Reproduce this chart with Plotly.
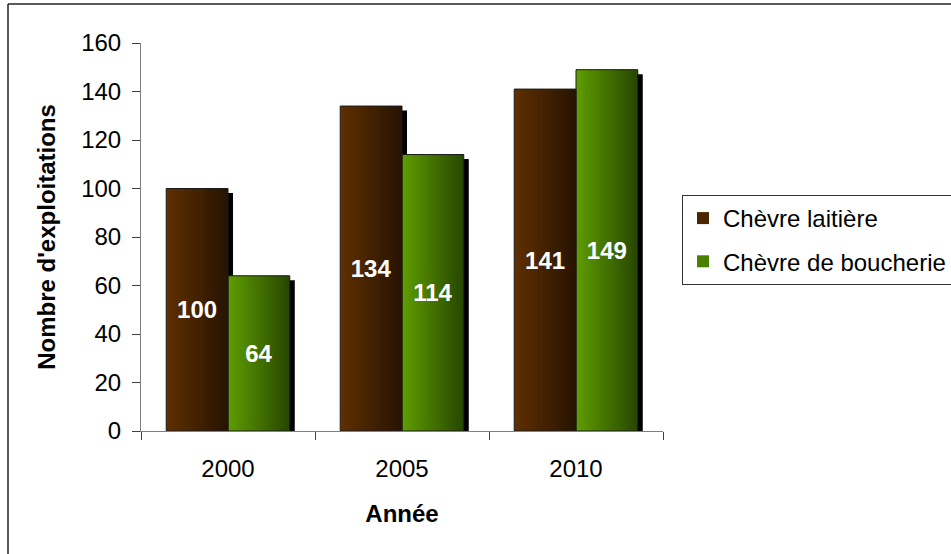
import plotly.graph_objects as go

# ---- data ----
years = ["2000", "2005", "2010"]
laitiere = [100, 134, 141]
boucherie = [64, 114, 149]
series_names = ["Chèvre laitière", "Chèvre de boucherie"]
y_ticks = [0, 20, 40, 60, 80, 100, 120, 140, 160]

# ---- layout constants (pixels) ----
FIG_W, FIG_H = 951, 554
PLOT_L, PLOT_R, PLOT_T, PLOT_B = 141, 663, 43, 431
plot_w = PLOT_R - PLOT_L
plot_h = PLOT_B - PLOT_T
px_per_cat = plot_w / 3.0
px_per_unit = plot_h / 160.0

W = 0.355                      # bar width in category units
SH_DX = 5 / px_per_cat         # shadow offset (x) in category units
SH_DY = 4.5 / px_per_unit      # shadow offset (y) in value units
N = 24                         # gradient slices per bar

FONT = "Arial, Liberation Sans, sans-serif"

styles = [
    dict(vals=laitiere, name=series_names[0], group="a", off=-W,
         c0=(94, 47, 0), c1=(40, 20, 3)),
    dict(vals=boucherie, name=series_names[1], group="b", off=0.0,
         c0=(94, 156, 0), c1=(40, 72, 0)),
]


def mix(c0, c1, t):
    return "rgb(%d,%d,%d)" % tuple(round(a + (b - a) * t) for a, b in zip(c0, c1))


fig = go.Figure()

# shadows
for s in styles:
    fig.add_bar(x=years, y=s["vals"], base=-SH_DY, offset=s["off"] + SH_DX, width=W,
                marker=dict(color="black", line=dict(width=0)),
                showlegend=False, hoverinfo="skip")

# gradient bodies
for s in styles:
    for i in range(N):
        t = i / (N - 1)
        wid = W / N * (1.6 if i < N - 1 else 1.0)
        fig.add_bar(x=years, y=s["vals"], offset=s["off"] + i * W / N, width=wid,
                    marker=dict(color=mix(s["c0"], s["c1"], t), line=dict(width=0)),
                    name=s["name"], legendgroup=s["group"],
                    showlegend=(i == N // 3), hoverinfo="skip")

# outlines + labels
for s in styles:
    fig.add_bar(x=years, y=s["vals"], offset=s["off"], width=W,
                marker=dict(color="rgba(0,0,0,0)", line=dict(color="#1a1a1a", width=1)),
                text=s["vals"], textposition="inside", insidetextanchor="middle",
                textfont=dict(color="white", size=24, family=FONT, weight="bold"),
                showlegend=False, name=s["name"])


def px_x(p):
    return (p - PLOT_L) / plot_w


def px_y(p):
    return (PLOT_B - p) / plot_h


fig.update_layout(
    width=FIG_W, height=FIG_H,
    barmode="overlay",
    paper_bgcolor="white", plot_bgcolor="white",
    margin=dict(l=PLOT_L, r=FIG_W - PLOT_R, t=PLOT_T, b=FIG_H - PLOT_B, autoexpand=False),
    font=dict(family=FONT, size=24, color="black"),
    xaxis=dict(type="category", categoryorder="array", categoryarray=years,
               range=[-0.5, 2.5], showline=True, linecolor="#808080", linewidth=1,
               ticks="outside", tickson="boundaries", ticklen=8, tickcolor="#404040",
               showgrid=False, zeroline=False, ticklabelstandoff=16,
               title=dict(text="Année", font=dict(size=24, weight="bold"), standoff=24)),
    yaxis=dict(range=[0, 160], tickvals=y_ticks, showline=True, linecolor="#808080",
               linewidth=1, ticks="outside", ticklen=8, tickcolor="#404040",
               showgrid=False, zeroline=False, ticklabelstandoff=6,
               title=dict(text="Nombre d'exploitations", font=dict(size=24, weight="bold"),
                          standoff=18)),
    legend=dict(x=px_x(682), y=px_y(195), xanchor="left", yanchor="top",
                bgcolor="white", bordercolor="#333333", borderwidth=1,
                font=dict(size=24), tracegroupgap=9, traceorder="grouped"),
    shapes=[
        dict(type="line", xref="paper", yref="paper", x0=px_x(8), x1=px_x(FIG_W + 5),
             y0=px_y(4), y1=px_y(4), line=dict(color="#222222", width=1.5)),
        dict(type="line", xref="paper", yref="paper", x0=px_x(8), x1=px_x(8),
             y0=px_y(4), y1=px_y(FIG_H + 5), line=dict(color="#222222", width=1.5)),
    ],
)

fig.write_html("out.html")
